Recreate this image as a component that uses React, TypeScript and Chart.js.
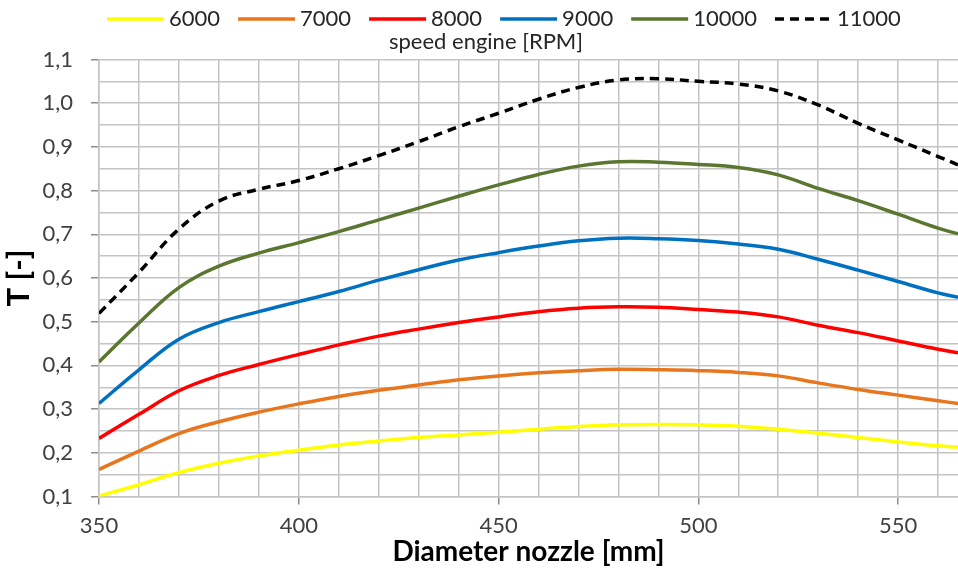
import React, { useEffect, useRef } from "react";
import { Chart, registerables } from "chart.js";

Chart.register(...registerables);

const diameters = [350, 360, 370, 380, 390, 400, 410, 420, 430, 440, 450, 460, 470, 480, 490, 500, 510, 520, 530, 540, 550, 560, 565];

const t6000 = [0.101, 0.127, 0.155, 0.176, 0.193, 0.206, 0.218, 0.227, 0.235, 0.241, 0.247, 0.254, 0.260, 0.264, 0.265, 0.264, 0.261, 0.254, 0.245, 0.235, 0.225, 0.216, 0.213];
const t7000 = [0.162, 0.204, 0.244, 0.271, 0.293, 0.312, 0.329, 0.343, 0.355, 0.367, 0.376, 0.383, 0.388, 0.391, 0.390, 0.388, 0.384, 0.376, 0.360, 0.345, 0.332, 0.319, 0.313];
const t8000 = [0.233, 0.288, 0.342, 0.377, 0.402, 0.425, 0.447, 0.467, 0.483, 0.498, 0.511, 0.523, 0.531, 0.534, 0.533, 0.528, 0.522, 0.511, 0.492, 0.475, 0.456, 0.437, 0.429];
const t9000 = [0.313, 0.390, 0.460, 0.498, 0.523, 0.546, 0.569, 0.595, 0.619, 0.641, 0.658, 0.673, 0.685, 0.691, 0.690, 0.686, 0.678, 0.666, 0.643, 0.618, 0.592, 0.566, 0.556];
const t10000 = [0.408, 0.497, 0.578, 0.627, 0.657, 0.681, 0.706, 0.733, 0.760, 0.787, 0.813, 0.837, 0.856, 0.866, 0.865, 0.860, 0.853, 0.836, 0.805, 0.777, 0.746, 0.714, 0.701];
const t11000 = [0.519, 0.613, 0.712, 0.776, 0.803, 0.823, 0.850, 0.880, 0.912, 0.946, 0.977, 1.009, 1.036, 1.053, 1.056, 1.050, 1.044, 1.028, 0.996, 0.954, 0.916, 0.878, 0.859];

const seriesLabels = ["6000", "7000", "8000", "9000", "10000", "11000"];
const seriesValues = [t6000, t7000, t8000, t9000, t10000, t11000];
const seriesColors = ["#FFFF00", "#E8761E", "#FF0000", "#0070C0", "#5A7630", "#000000"];

const legendTitle = "speed engine [RPM]";
const xTitle = "Diameter nozzle [mm]";
const yTitle = "T [-]";

const X_MIN = 350;
const X_MAX = 565;
const Y_MIN = 0.1;
const Y_MAX = 1.1;

const FONT = "Lato, 'Open Sans', sans-serif";
const GRID = "#c4c4c4";
const TICKMARK = "#8c8c8c";

const isMult = (v: number, step: number) => Math.abs(Math.round(v / step) * step - v) < 1e-6;

const legendPlugin = {
  id: "customLegend",
  afterDraw(chart: any) {
    const ctx = chart.ctx as CanvasRenderingContext2D;
    ctx.save();
    ctx.font = `22px ${FONT}`;
    ctx.textBaseline = "middle";
    ctx.textAlign = "left";
    let x = 107;
    const y = 19;
    chart.data.datasets.forEach((ds: any) => {
      ctx.beginPath();
      ctx.strokeStyle = ds.borderColor;
      ctx.lineWidth = ds.borderWidth;
      ctx.lineCap = "butt";
      ctx.setLineDash(ds.borderDash || []);
      ctx.moveTo(x, y);
      ctx.lineTo(x + 57, y);
      ctx.stroke();
      ctx.setLineDash([]);
      ctx.fillStyle = "#262626";
      ctx.fillText(ds.label, x + 62, y);
      x += 62 + ctx.measureText(ds.label).width + 18;
    });
    ctx.font = `22px ${FONT}`;
    ctx.textAlign = "center";
    ctx.fillStyle = "#262626";
    ctx.fillText(legendTitle, 486, 42);
    ctx.restore();
  },
};

export default function App() {
  const ref = useRef<HTMLCanvasElement | null>(null);

  useEffect(() => {
    if (!ref.current) return;
    const datasets = seriesLabels.map((label, i) => ({
      label,
      data: diameters.map((d, j) => ({ x: d, y: seriesValues[i][j] })),
      borderColor: seriesColors[i],
      backgroundColor: seriesColors[i],
      borderWidth: 3.5,
      borderDash: label === "11000" ? [9, 6] : [],
      pointRadius: 0,
      tension: 0.4,
      fill: false,
    }));

    const chart = new Chart(ref.current, {
      type: "line",
      data: { datasets },
      plugins: [legendPlugin],
      options: {
        animation: false,
        responsive: false,
        layout: { padding: { top: 59.5, left: 0, right: 0, bottom: 0 } },
        plugins: {
          legend: { display: false },
          tooltip: { enabled: false },
          title: { display: false },
        },
        scales: {
          x: {
            type: "linear",
            min: X_MIN,
            max: X_MAX,
            afterFit: (scale: any) => {
              scale.height = 72.5;
            },
            ticks: {
              stepSize: 10,
              includeBounds: false,
              autoSkip: false,
              maxRotation: 0,
              padding: 8,
              color: "#404040",
              font: { family: FONT, size: 22 },
              callback: (v: any) => (isMult(Number(v), 50) ? String(v) : ""),
            },
            grid: {
              color: GRID,
              lineWidth: 1.5,
              tickLength: 8,
              tickColor: (c: any) => (c.tick && isMult(c.tick.value, 50) ? TICKMARK : "rgba(0,0,0,0)"),
            },
            border: { color: GRID, width: 1.5 },
            title: {
              display: true,
              text: xTitle,
              color: "#000",
              font: { family: FONT, size: 28, weight: "bold" },
              padding: { top: 0, bottom: 0 },
            },
          },
          y: {
            type: "linear",
            min: Y_MIN,
            max: Y_MAX,
            afterFit: (scale: any) => {
              scale.width = 99;
            },
            ticks: {
              stepSize: 0.05,
              autoSkip: false,
              padding: 18,
              color: "#404040",
              font: { family: FONT, size: 22 },
              callback: (v: any) => (isMult(Number(v), 0.1) ? Number(v).toFixed(1).replace(".", ",") : ""),
            },
            grid: {
              color: GRID,
              lineWidth: 1.5,
              tickLength: 8,
              tickColor: (c: any) => (c.tick && isMult(c.tick.value, 0.1) ? TICKMARK : "rgba(0,0,0,0)"),
            },
            border: { color: GRID, width: 1.5 },
            title: {
              display: true,
              text: yTitle,
              color: "#000",
              font: { family: FONT, size: 31, weight: "bold" },
              padding: { top: 0, bottom: 0 },
            },
          },
        },
      },
    });
    return () => chart.destroy();
  }, []);

  return (
    <div style={{ position: "absolute", left: 0, top: 0, width: 958, height: 569, background: "#fff" }}>
      <canvas ref={ref} width={958} height={569} style={{ display: "block" }} />
    </div>
  );
}
